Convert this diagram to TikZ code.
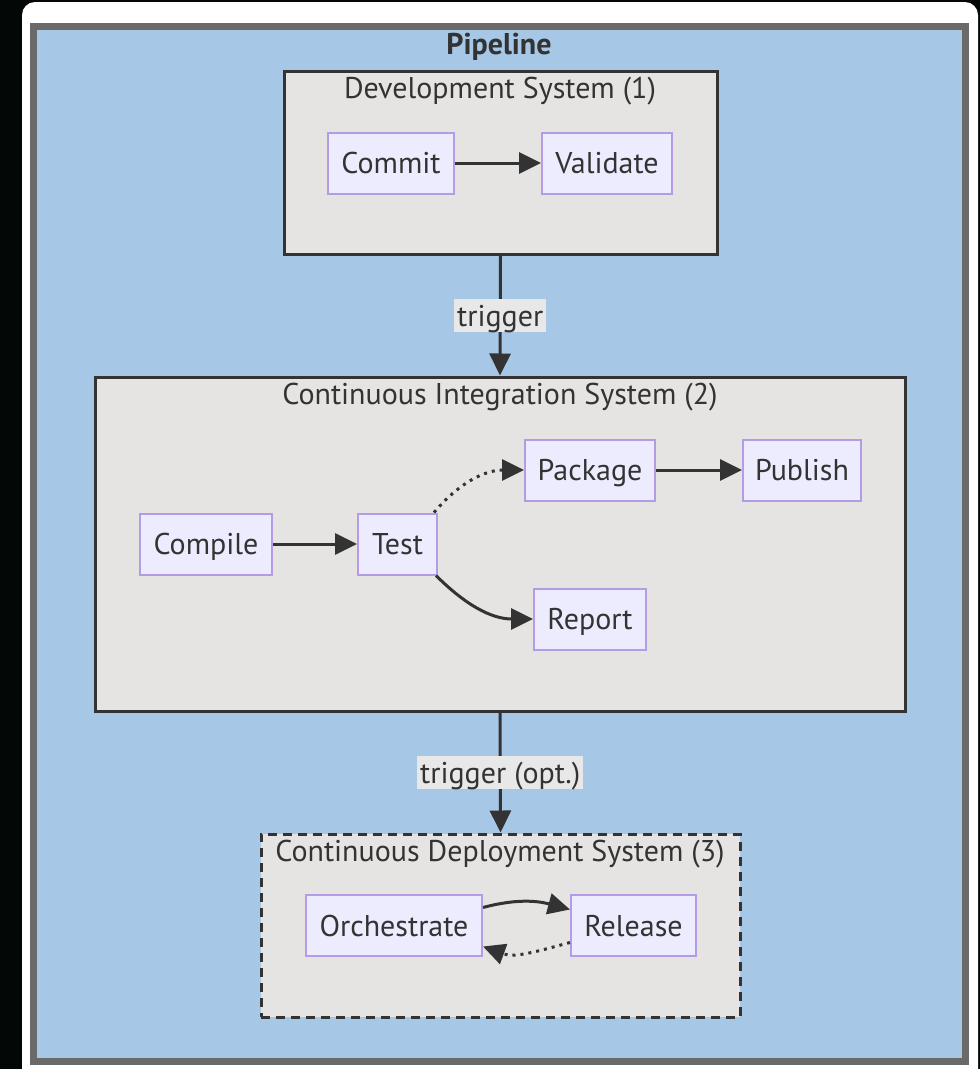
\documentclass[tikz,border=0pt]{standalone}
\usepackage{fontspec}
\setmainfont{PT Sans}
\usetikzlibrary{arrows.meta}

\definecolor{ink}{HTML}{333333}
\definecolor{backdrop}{HTML}{030806}
\definecolor{pipeborder}{HTML}{6A6A6A}
\definecolor{pipefill}{HTML}{A6C7E5}
\definecolor{groupfill}{HTML}{E5E4E2}
\definecolor{stepfill}{HTML}{ECECFE}
\definecolor{stepline}{HTML}{B49BE6}
\definecolor{labelfill}{HTML}{E8E8E8}

\tikzset{
  txt/.style={font=\fontsize{30}{34}\selectfont, text=ink, text height=21pt, text depth=0pt},
  groupbox/.style={draw=ink, line width=3pt, fill=groupfill, rectangle, inner sep=0pt},
  grouptitle/.style={txt, anchor=center, inner sep=0pt},
  stepbox/.style={txt, draw=stepline, line width=2pt, fill=stepfill, rectangle,
    inner sep=0pt, minimum height=61pt},
  flow/.style={draw=ink, line width=3pt, -{Triangle[length=22pt,width=21pt]}},
  dotflow/.style={flow, dash pattern=on 3pt off 5pt},
  edgelabel/.style={txt, fill=labelfill, inner xsep=3pt, inner ysep=6pt}
}

\begin{document}
\begin{tikzpicture}[x=1pt, y=-1pt]
  % page and framing
  \fill[backdrop] (0,0) rectangle (980,1069);
  \useasboundingbox (0,0) rectangle (980,1069);
  \fill[white, rounded corners=13pt] (22,2) rectangle (978,1085);
  \draw[pipeborder, fill=pipefill, line width=7pt] (33.5,26.5) rectangle (965.5,1061.5);
  \node[txt, font=\fontsize{30}{34}\selectfont\bfseries, inner sep=0pt] (pipeline) at (499,44) {Pipeline};

  % Development System (1)
  \node[groupbox, minimum width=433pt, minimum height=183pt] (dev) at (500.5,162.5) {};
  \node[grouptitle] (devtitle) at (500,88) {Development System (1)};
  \node[stepbox, minimum width=126pt] (commit) at (391,163) {Commit};
  \node[stepbox, minimum width=130pt] (validate) at (607,163) {Validate};
  \draw[flow] (commit) -- (validate);

  % Continuous Integration System (2)
  \node[groupbox, minimum width=810pt, minimum height=334pt] (ci) at (500,544) {};
  \node[grouptitle] (cititle) at (500,394) {Continuous Integration System (2)};
  \node[stepbox, minimum width=132pt] (compile) at (206,544) {Compile};
  \node[stepbox, minimum width=79pt] (test) at (397.5,544) {Test};
  \node[stepbox, minimum width=130pt] (package) at (590,470) {Package};
  \node[stepbox, minimum width=118pt] (publish) at (802,470) {Publish};
  \node[stepbox, minimum width=112pt] (report) at (590,619) {Report};
  \draw[flow] (compile) -- (test);
  \draw[flow] (package) -- (publish);
  \draw[dotflow] ([xshift=-4pt]test.north east) to[out=50, in=180] (package.west);
  \draw[flow] ([xshift=-2pt]test.south east) to[out=-45, in=180] (report.west);

  % Continuous Deployment System (3)
  \node[groupbox, dash pattern=on 9pt off 6pt, line width=3pt, minimum width=479pt, minimum height=183pt] (cd) at (500.5,925.5) {};
  \node[grouptitle] (cdtitle) at (500,851) {Continuous Deployment System (3)};
  \node[stepbox, minimum width=176pt] (orchestrate) at (394,925.5) {Orchestrate};
  \node[stepbox, minimum width=125pt] (release) at (633.5,925.5) {Release};
  \draw[flow] ([yshift=18pt]orchestrate.east) to[out=15, in=165] ([yshift=16pt]release.west);
  \draw[dotflow] ([yshift=-17pt]release.west) to[out=195, in=-20] ([yshift=-21pt]orchestrate.east);

  % hand-offs between the systems
  \draw[flow] (dev.south) -- node[edgelabel] (trig) {trigger} (ci.north);
  \draw[flow] (ci.south) -- node[edgelabel] (trigopt) {trigger (opt.)} (cd.north);
\end{tikzpicture}
\end{document}
